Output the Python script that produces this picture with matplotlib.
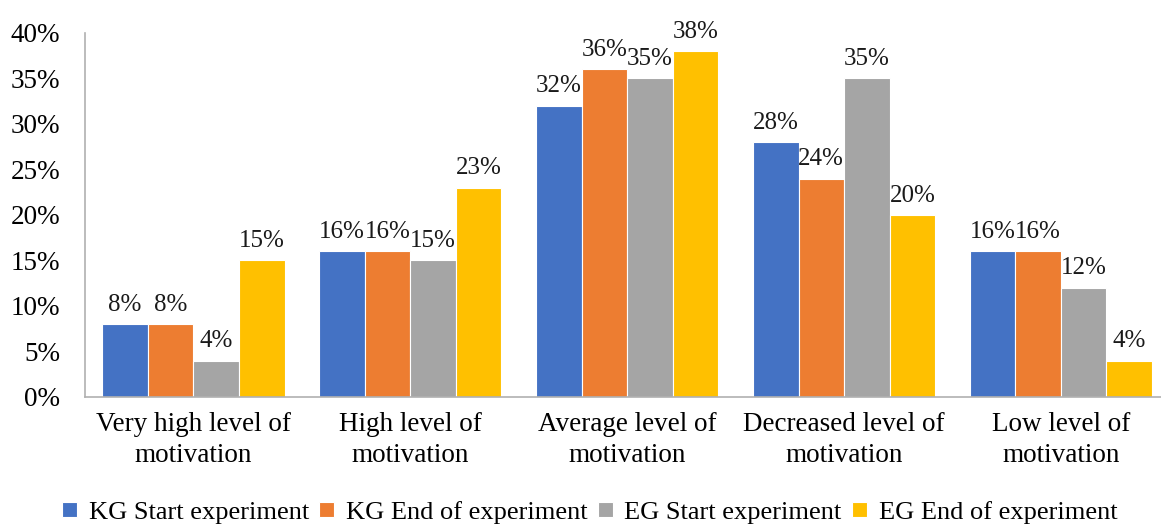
import numpy as np
import matplotlib.pyplot as plt

plt.rcParams["font.family"] = ["Liberation Serif", "DejaVu Serif"]

categories = [
    "Very high level of\nmotivation",
    "High level of\nmotivation",
    "Average level of\nmotivation",
    "Decreased level of\nmotivation",
    "Low level of\nmotivation",
]
series_names = [
    "KG Start experiment",
    "KG End of experiment",
    "EG Start experiment",
    "EG End of experiment",
]
kg_start = [8, 16, 32, 28, 16]
kg_end = [8, 16, 36, 24, 16]
eg_start = [4, 15, 35, 35, 12]
eg_end = [15, 23, 38, 20, 4]
colors = ["#4472C4", "#ED7D31", "#A5A5A5", "#FFC000"]

series = [kg_start, kg_end, eg_start, eg_end]
fs = 19.5

fig = plt.figure(figsize=(11.61, 5.24), dpi=100)
ax = fig.add_axes([0.0732, 0.2424, 0.934, 0.6947])

x = np.arange(len(categories))
width = 0.21
for i, (vals, name, c) in enumerate(zip(series, series_names, colors)):
    pos = x + (i - 1.5) * width
    bars = ax.bar(pos, vals, width, color=c, label=name,
                  edgecolor="white", linewidth=0.8)
    for b, v in zip(bars, vals):
        ax.annotate(f"{v}%", (b.get_x() + b.get_width() / 2, v),
                    xytext=(0, 6), textcoords="offset points",
                    ha="center", va="bottom", fontsize=18, color="#1a1a1a")

ax.set_xlim(-0.5, len(categories) - 0.5)
ax.set_ylim(0, 40)
ax.set_yticks(range(0, 41, 5))
ax.set_yticklabels([f"{t}%" for t in range(0, 41, 5)], fontsize=fs)
ax.set_xticks(x)
ax.set_xticklabels(categories, fontsize=fs, linespacing=1.3)
ax.tick_params(length=0)
ax.tick_params(axis="y", pad=18)
ax.tick_params(axis="x", pad=11)

for side in ["top", "right"]:
    ax.spines[side].set_visible(False)
for side in ["left", "bottom"]:
    ax.spines[side].set_color("#B0B0B0")
    ax.spines[side].set_linewidth(1.2)

fig.legend(loc="lower center", bbox_to_anchor=(0.508, -0.045), ncol=4,
           frameon=False, fontsize=19, handlelength=0.55, handleheight=0.55,
           handletextpad=0.45, columnspacing=0.4)

fig.savefig("out.png", dpi=100)
